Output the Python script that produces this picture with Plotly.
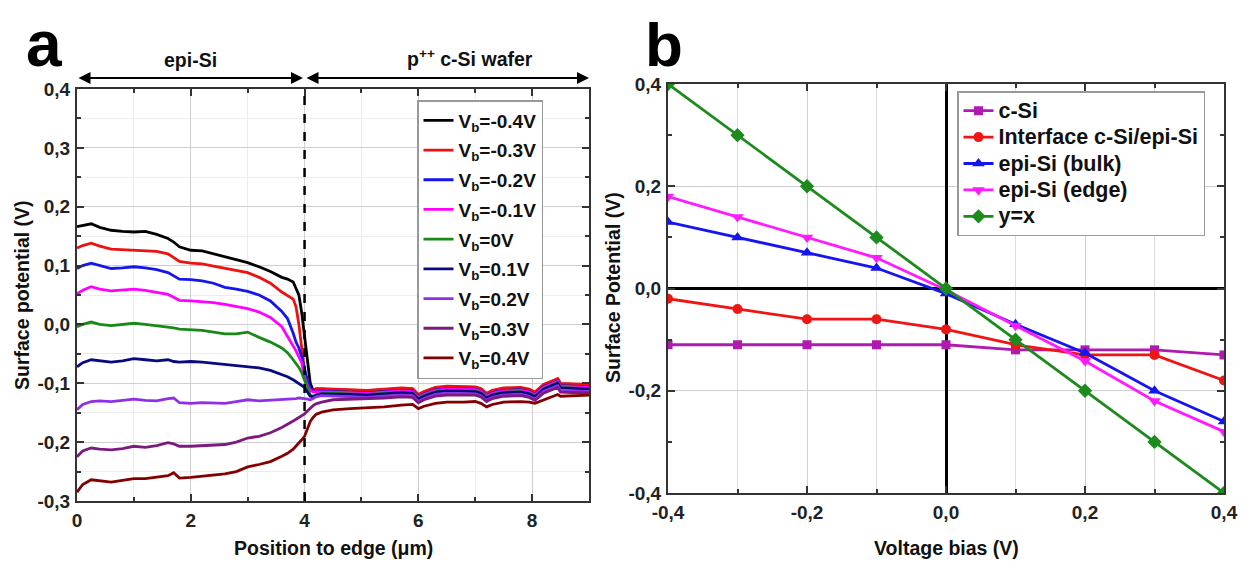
import plotly.graph_objects as go

REF_W, REF_H = 1247, 562
PAGE_OFFSET = 8  # browser body margin
FIG_W, FIG_H = REF_W - PAGE_OFFSET, REF_H - PAGE_OFFSET

# ---------------- Panel a data ----------------
position_um = [0, 0.1, 0.25, 0.4, 0.6, 0.8, 1.0, 1.2, 1.4, 1.6, 1.7, 1.8, 2.0, 2.2, 2.4, 2.6, 2.8,
               3.0, 3.2, 3.4, 3.6, 3.7, 3.8, 3.85, 3.9, 3.95, 4.0, 4.05, 4.1, 4.15, 4.2, 4.3, 4.5,
               4.8, 5.1, 5.4, 5.7, 5.9, 6.0, 6.1, 6.3, 6.5, 6.8, 7.0, 7.1, 7.2, 7.3, 7.5, 7.8,
               7.95, 8.05, 8.2, 8.35, 8.45, 8.5, 8.7, 9.0]

vb_m04 = [0.166, 0.168, 0.171, 0.165, 0.16, 0.158, 0.157, 0.158, 0.153, 0.146, 0.14, 0.132, 0.126,
          0.125, 0.12, 0.115, 0.11, 0.105, 0.098, 0.09, 0.08, 0.077, 0.072, 0.062, 0.05, 0.02,
          -0.02, -0.065, -0.1, -0.112,
          -0.11, -0.11, -0.111, -0.112, -0.113, -0.111, -0.109, -0.11, -0.12, -0.115, -0.108,
          -0.106, -0.107, -0.107, -0.11, -0.118, -0.113, -0.109, -0.108, -0.111, -0.116, -0.103,
          -0.097, -0.093, -0.101, -0.102, -0.103]
vb_m03 = [0.13, 0.134, 0.138, 0.133, 0.128, 0.127, 0.127, 0.126, 0.124, 0.12, 0.113, 0.107, 0.104,
          0.103, 0.099, 0.095, 0.092, 0.088, 0.08, 0.07, 0.055, 0.049, 0.043, 0.03, 0.0, -0.04,
          -0.08, -0.1, -0.11, -0.112,
          -0.109, -0.109, -0.11, -0.111, -0.112, -0.11, -0.108, -0.109, -0.119, -0.114, -0.107,
          -0.105, -0.106, -0.106, -0.109, -0.117, -0.112, -0.108, -0.107, -0.11, -0.115, -0.102,
          -0.096, -0.092, -0.1, -0.101, -0.102]
vb_m02 = [0.095, 0.1, 0.104, 0.1, 0.095, 0.096, 0.098, 0.096, 0.093, 0.088, 0.082, 0.077, 0.076,
          0.074, 0.07, 0.063, 0.06, 0.056, 0.05, 0.04, 0.022, 0.01, -0.015, -0.03, -0.04, -0.055,
          -0.075, -0.095, -0.108, -0.113,
          -0.113, -0.113, -0.114, -0.115, -0.116, -0.114, -0.112, -0.113, -0.123, -0.118, -0.111,
          -0.109, -0.11, -0.11, -0.113, -0.121, -0.116, -0.112, -0.111, -0.114, -0.119, -0.106,
          -0.1, -0.096, -0.104, -0.105, -0.106]
vb_m01 = [0.052, 0.058, 0.064, 0.06, 0.057, 0.058, 0.06, 0.058, 0.055, 0.051, 0.046, 0.041, 0.04,
          0.039, 0.037, 0.034, 0.031, 0.027, 0.021, 0.012, -0.004, -0.02, -0.038, -0.045, -0.055,
          -0.065, -0.09, -0.104, -0.112, -0.115,
          -0.114, -0.114, -0.115, -0.116, -0.117, -0.115, -0.113, -0.114, -0.124, -0.119, -0.112,
          -0.11, -0.111, -0.111, -0.114, -0.122, -0.117, -0.113, -0.112, -0.115, -0.12, -0.107,
          -0.101, -0.097, -0.105, -0.106, -0.107]
vb_0 = [-0.004, 0.0, 0.004, 0.0, -0.002, 0.0, 0.002, 0.0, -0.002, -0.004, -0.006, -0.008, -0.009,
        -0.01, -0.013, -0.016, -0.016, -0.013, -0.022, -0.03, -0.04, -0.048, -0.06, -0.066, -0.073,
        -0.082, -0.095, -0.11, -0.12, -0.122,
        -0.12, -0.117, -0.117, -0.118, -0.119, -0.117, -0.115, -0.116, -0.126, -0.121, -0.114,
        -0.112, -0.113, -0.113, -0.116, -0.124, -0.119, -0.115, -0.114, -0.117, -0.122, -0.109,
        -0.103, -0.099, -0.107, -0.108, -0.109]
vb_01 = [-0.072, -0.065, -0.06, -0.062, -0.064, -0.062, -0.058, -0.06, -0.062, -0.06, -0.063,
         -0.064, -0.063, -0.064, -0.066, -0.068, -0.069, -0.071, -0.074, -0.078, -0.085, -0.089,
         -0.094, -0.097, -0.1, -0.103, -0.107, -0.115, -0.122, -0.123,
         -0.12, -0.118, -0.118, -0.119, -0.12, -0.118, -0.116, -0.117, -0.127, -0.122, -0.115,
         -0.113, -0.114, -0.114, -0.117, -0.125, -0.12, -0.116, -0.115, -0.118, -0.123, -0.11,
         -0.104, -0.1, -0.108, -0.109, -0.11]
vb_02 = [-0.145, -0.136, -0.131, -0.13, -0.131, -0.129, -0.127, -0.129, -0.13, -0.126, -0.125,
         -0.133, -0.134, -0.133, -0.134, -0.134, -0.131, -0.128, -0.13, -0.129, -0.127, -0.127,
         -0.126, -0.126, -0.125, -0.125, -0.126, -0.127, -0.128, -0.126,
         -0.123, -0.121, -0.122, -0.123, -0.124, -0.122, -0.12, -0.121, -0.131, -0.126, -0.119,
         -0.117, -0.118, -0.118, -0.121, -0.129, -0.124, -0.12, -0.119, -0.122, -0.127, -0.114,
         -0.108, -0.104, -0.112, -0.113, -0.114]
vb_03 = [-0.225, -0.215, -0.21, -0.212, -0.213, -0.211, -0.207, -0.209, -0.206, -0.201, -0.203,
         -0.207, -0.207, -0.206, -0.205, -0.204, -0.2, -0.193, -0.19, -0.184, -0.175, -0.17,
         -0.164, -0.161, -0.158, -0.155, -0.152, -0.147, -0.142, -0.138,
         -0.135, -0.132, -0.128, -0.127, -0.127, -0.125, -0.123, -0.124, -0.133, -0.128, -0.122,
         -0.12, -0.12, -0.12, -0.123, -0.131, -0.126, -0.122, -0.121, -0.124, -0.129, -0.117,
         -0.111, -0.107, -0.115, -0.116, -0.116]
vb_04 = [-0.285, -0.272, -0.264, -0.266, -0.268, -0.265, -0.262, -0.262, -0.26, -0.257, -0.252,
         -0.261, -0.26, -0.258, -0.256, -0.254, -0.25, -0.242, -0.238, -0.233, -0.224, -0.219,
         -0.212, -0.207, -0.202, -0.196, -0.19, -0.176, -0.165, -0.158,
         -0.153, -0.149, -0.145, -0.143, -0.142, -0.14, -0.137, -0.136, -0.143, -0.139, -0.134,
         -0.132, -0.132, -0.131, -0.134, -0.14, -0.136, -0.132, -0.131, -0.132, -0.134, -0.128,
         -0.122, -0.119, -0.122, -0.121, -0.12]

bias_labels = ["V<sub>b</sub>=-0.4V", "V<sub>b</sub>=-0.3V", "V<sub>b</sub>=-0.2V",
               "V<sub>b</sub>=-0.1V", "V<sub>b</sub>=0V", "V<sub>b</sub>=0.1V",
               "V<sub>b</sub>=0.2V", "V<sub>b</sub>=0.3V", "V<sub>b</sub>=0.4V"]
profiles = [vb_m04, vb_m03, vb_m02, vb_m01, vb_0, vb_01, vb_02, vb_03, vb_04]
profile_colors = ["#000000", "#EE1111", "#1515EE", "#FF00FF", "#178A17",
                  "#0A0A80", "#8F30E8", "#7D1A80", "#840000"]

# ---------------- Panel b data ----------------
voltage_bias = [-0.4, -0.3, -0.2, -0.1, 0.0, 0.1, 0.2, 0.3, 0.4]
c_si = [-0.11, -0.11, -0.11, -0.11, -0.11, -0.12, -0.12, -0.12, -0.13]
interface = [-0.02, -0.04, -0.06, -0.06, -0.08, -0.11, -0.13, -0.13, -0.18]
epi_bulk = [0.13, 0.10, 0.07, 0.04, -0.01, -0.07, -0.126, -0.20, -0.26]
epi_edge = [0.18, 0.14, 0.10, 0.06, -0.003, -0.073, -0.142, -0.22, -0.28]
y_eq_x = [0.4, 0.3, 0.2, 0.1, 0.0, -0.1, -0.2, -0.3, -0.4]

b_names = ["c-Si", "Interface c-Si/epi-Si", "epi-Si (bulk)", "epi-Si (edge)", "y=x"]
b_series = [c_si, interface, epi_bulk, epi_edge, y_eq_x]
b_colors = ["#B01AB0", "#F01515", "#1515F0", "#FF1AFF", "#1C8A1C"]
b_symbols = ["square", "circle", "triangle-up", "triangle-down", "diamond"]
b_sizes = [9, 10, 11, 11, 11]

# tick labels
a_xticks = [0, 2, 4, 6, 8]
a_xticktext = ["0", "2", "4", "6", "8"]
a_yticks = [-0.3, -0.2, -0.1, 0.0, 0.1, 0.2, 0.3, 0.4]
a_yticktext = ["-0,3", "-0,2", "-0,1", "0,0", "0,1", "0,2", "0,3", "0,4"]
b_ticks = [-0.4, -0.2, 0.0, 0.2, 0.4]
b_ticktext = ["-0,4", "-0,2", "0,0", "0,2", "0,4"]

FONT = "Liberation Sans"


def px(x):
    return (x - PAGE_OFFSET) / FIG_W


def py(y):
    return 1 - (y - PAGE_OFFSET) / FIG_H


fig = go.Figure()

for i, (name, vals, col) in enumerate(zip(bias_labels, profiles, profile_colors)):
    fig.add_trace(go.Scatter(
        x=position_um, y=vals, mode="lines", name=name,
        line=dict(color=col, width=2.8), xaxis="x", yaxis="y",
        legend="legend", legendgroup="a%d" % i))

for name, vals, col, sym, sz in zip(b_names, b_series, b_colors, b_symbols, b_sizes):
    fig.add_trace(go.Scatter(
        x=voltage_bias, y=vals, mode="lines+markers",
        name='<span style="font-size:21.5px">%s</span>' % name,
        line=dict(color=col, width=2.8), marker=dict(symbol=sym, size=sz, color=col),
        xaxis="x2", yaxis="y2", legend="legend2"))

axis_common = dict(
    showline=True, linecolor="#333333", linewidth=2, mirror="ticks",
    ticks="inside", ticklen=7, tickwidth=1.5, tickcolor="#333333",
    showgrid=True, gridcolor="#cfcfcf", gridwidth=1,
    tickfont=dict(family=FONT, size=19, color="#222222", weight="bold"),
    automargin=False, zeroline=False, ticklabelstandoff=1,
)

fig.update_layout(
    width=FIG_W, height=FIG_H,
    margin=dict(l=0, r=0, t=0, b=0),
    paper_bgcolor="white", plot_bgcolor="white",
    showlegend=True,
    xaxis=dict(domain=[px(77), px(589)], range=[0, 9], anchor="y",
               tickvals=a_xticks, ticktext=a_xticktext,
               minor=dict(dtick=1, ticks="inside", ticklen=4, tickcolor="#333333",
                          showgrid=True, gridcolor="#ececec"),
               **axis_common),
    yaxis=dict(domain=[py(501), py(89)], range=[-0.3, 0.4], anchor="x",
               tickvals=a_yticks, ticktext=a_yticktext,
               minor=dict(dtick=0.05, tick0=0, ticks="inside", ticklen=4, tickcolor="#333333",
                          showgrid=True, gridcolor="#ececec"),
               **axis_common),
    xaxis2=dict(domain=[px(668), px(1224)], range=[-0.4, 0.4], anchor="y2",
                tickvals=b_ticks, ticktext=b_ticktext,
                minor=dict(dtick=0.1, tick0=0, ticks="inside", ticklen=4, tickcolor="#333333",
                           showgrid=True, gridcolor="#dcdcdc"),
                **axis_common),
    yaxis2=dict(domain=[py(493), py(84)], range=[-0.4, 0.4], anchor="x2",
                tickvals=b_ticks, ticktext=b_ticktext,
                minor=dict(dtick=0.1, tick0=0, ticks="inside", ticklen=4, tickcolor="#333333",
                           showgrid=False),
                **axis_common),
    legend=dict(x=px(417), y=py(100), xanchor="left", yanchor="top",
                bgcolor="white", bordercolor="#999999", borderwidth=1.5,
                font=dict(family=FONT, size=19, color="#111111", weight="bold"),
                tracegroupgap=2, itemwidth=30),
    legend2=dict(x=px(957), y=py(91), xanchor="left", yanchor="top",
                 bgcolor="white", bordercolor="#999999", borderwidth=1.5,
                 font=dict(family=FONT, size=18, color="#111111", weight="bold"),
                 itemwidth=30),
)

# zero lines on panel b
fig.update_layout(xaxis2_zeroline=True, xaxis2_zerolinecolor="black", xaxis2_zerolinewidth=2.5,
                  yaxis2_zeroline=True, yaxis2_zerolinecolor="black", yaxis2_zerolinewidth=2.5)

# dashed interface line
fig.add_shape(type="line", xref="x", yref="y domain", x0=4, x1=4, y0=0, y1=1,
              line=dict(color="black", width=2.5, dash="dash"), layer="above")

title_font = dict(family=FONT, size=19.5, color="#111111", weight="bold")
ann = [
    dict(x=px(44), y=py(44), text="a", height=54,
         font=dict(family=FONT, size=64, color="black", weight="bold")),
    dict(x=px(664), y=py(44), text="b", height=56,
         font=dict(family=FONT, size=62, color="black", weight="bold")),
    dict(x=px(190), y=py(60), text="epi-Si", font=title_font),
    dict(x=px(470), y=py(58), text="p<sup>++</sup> c-Si wafer", font=title_font),
    dict(x=px(333), y=py(548), text="Position to edge (\u03bcm)", font=title_font),
    dict(x=px(22), y=py(295), text="Surface potential (V)", font=title_font, textangle=-90),
    dict(x=px(946), y=py(548), text="Voltage bias (V)", font=title_font),
    dict(x=px(613), y=py(288), text="Surface Potential (V)", font=title_font, textangle=-90),
]
for a in ann:
    fig.add_annotation(xref="paper", yref="paper", showarrow=False,
                       xanchor="center", yanchor="middle", **a)

# double-headed arrows above panel a
for x_start, x_end in [(77, 303), (305, 589)]:
    fig.add_annotation(xref="paper", yref="paper", x=px(x_end), y=py(78),
                       ax=-(x_end - x_start), ay=0, text="", showarrow=True,
                       arrowhead=2, startarrowhead=2, arrowside="end+start",
                       arrowsize=1.2, startarrowsize=1.2, arrowwidth=2, arrowcolor="black")

fig.write_html("out.html")
